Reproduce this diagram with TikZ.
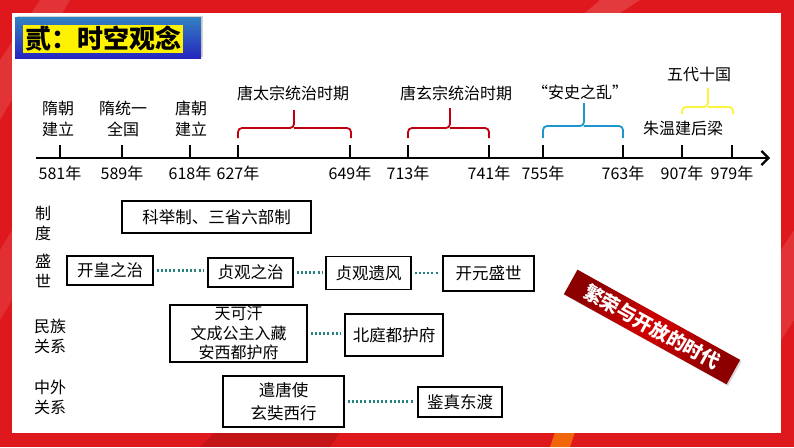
\documentclass[tikz,border=0pt]{standalone}
\usepackage{fontspec}
\newfontfamily\cjk{Noto Sans CJK SC}
\usetikzlibrary{arrows.meta,shadows}
\definecolor{framered}{RGB}{222,24,28}
\definecolor{braceRed}{RGB}{192,0,16}
\definecolor{braceBlue}{RGB}{30,150,205}
\definecolor{braceYellow}{RGB}{250,245,60}
\definecolor{linkTeal}{RGB}{40,130,130}
\begin{document}
\begin{tikzpicture}[x=1pt,y=-1pt,
  every node/.style={inner sep=0pt},
  yr/.style={font=\cjk\fontsize{16}{18}\selectfont},
  lbl/.style={align=center, font=\cjk\fontsize{16}{21}\selectfont},
  rowlbl/.style={align=left, anchor=west, font=\cjk\fontsize{16}{20}\selectfont},
  evbox/.style={draw=black, line width=1.3pt, align=center, font=\cjk\fontsize{16.5}{21.5}\selectfont},
  link/.style={draw=linkTeal, line width=2.2pt, dash pattern=on 2pt off 2.2pt, shorten <=3pt, shorten >=3pt},
  tickmark/.style={line width=2.6pt},
  bracepath/.style={line width=1.8pt, rounded corners=4pt}
]
\useasboundingbox (0,0) rectangle (794,447);
% background frame
\fill[framered] (0,0) rectangle (794,447);
\fill[white,opacity=0.12] (0,60) -- (40,0) -- (70,0) -- (0,120) -- cycle;
\fill[white,opacity=0.10] (0,250) -- (12,230) -- (12,300) -- (0,320) -- cycle;
\fill[white,opacity=0.15] (600,0) -- (640,0) -- (620,13) -- (585,13) -- cycle;
\fill[orange!80!yellow,opacity=0.6] (550,447) -- (570,447) -- (575,432) -- (555,432) -- cycle;
\fill[white,opacity=0.12] (781,250) -- (794,230) -- (794,320) -- (781,340) -- cycle;
\fill[black,opacity=0.12] (200,447) -- (330,447) -- (340,432) -- (215,432) -- cycle;
\fill[white] (12,13) rectangle (781,433);
% title
\node[top color=blue!45!cyan!70!black!80, bottom color=blue!70!black!85, drop shadow={opacity=0.35,shadow xshift=1.5pt,shadow yshift=1.5pt}, minimum width=186pt, minimum height=41pt] (titlebox) at (108,37.5) {};
\node[fill=yellow, minimum width=160pt, minimum height=28pt, font=\cjk\bfseries\fontsize{26}{28}\selectfont] (title) at (103,39) {贰：时空观念};
% axis
\coordinate (axstart) at (36,158);
\coordinate (axend) at (770,158);
\draw[line width=2.6pt, -{Straight Barb[length=7pt,width=14pt,line width=2.2pt]}] (axstart) -- (axend);
\foreach \x/\y/\n in {60/581/a,122/589/b,190/618/c,238/627/d,350/649/e,408/713/f,489/741/g,543/755/h,623/763/i,682/907/j,732/979/k}{
  \coordinate (t\n) at (\x,158);
  \draw[tickmark] (t\n) -- ++(0,-13);
  \node[yr] (y\n) at (\x,173) {\y 年};
}
% labels above
\node[lbl] (l1) at (58,119) {隋朝\\建立};
\node[lbl] (l2) at (123,119) {隋统一\\全国};
\node[lbl] (l3) at (191,119) {唐朝\\建立};
\node[lbl] (l4) at (293,93) {唐太宗统治时期};
\node[lbl] (l5) at (456,93) {唐玄宗统治时期};
\node[lbl] (l6) at (580,92) {“安史之乱”};
\node[lbl] (l7) at (699,74) {五代十国};
\node[lbl] (l8) at (683,128) {朱温建后梁};
% braces
\draw[bracepath, braceRed] (238,138) |- (294,128) -- (294,110);
\draw[bracepath, braceRed] (351,138) |- (294,128);
\draw[bracepath, braceRed] (408,138) |- (450,128) -- (450,108);
\draw[bracepath, braceRed] (489,138) |- (450,128);
\draw[bracepath, braceBlue] (543,138) |- (584,126) -- (584,103);
\draw[bracepath, braceBlue] (623,138) |- (584,126);
\draw[bracepath, braceYellow] (682,114) |- (708,107) -- (708,88);
\draw[bracepath, braceYellow] (733,114) |- (708,107);
% row labels
\node[rowlbl] (r1) at (35,223) {制\\度};
\node[rowlbl] (r2) at (35,271) {盛\\世};
\node[rowlbl] (r3) at (34,336) {民族\\关系};
\node[rowlbl] (r4) at (34,397) {中外\\关系};
% boxes
\node[evbox, minimum width=189pt, minimum height=32pt] (zhidu) at (216.5,217) {科举制、三省六部制};
\node[evbox, minimum width=86pt, minimum height=29pt] (kaihuang) at (110,270.5) {开皇之治};
\node[evbox, minimum width=85pt, minimum height=29pt] (zhenguan) at (250.5,272.5) {贞观之治};
\node[evbox, minimum width=85pt, minimum height=33pt] (yifeng) at (368.5,273) {贞观遗风};
\node[evbox, minimum width=91pt, minimum height=35pt] (kaiyuan) at (488.5,273.5) {开元盛世};
\node[evbox, minimum width=137pt, minimum height=57pt, font=\cjk\fontsize{16}{19.5}\selectfont] (tian) at (238.5,333.5) {天可汗\\文成公主入藏\\安西都护府};
\node[evbox, minimum width=98pt, minimum height=42pt] (beiting) at (394,335) {北庭都护府};
\node[evbox, minimum width=121pt, minimum height=51pt, font=\cjk\fontsize{16.5}{23}\selectfont] (qiantang) at (283.5,401.5) {遣唐使\\玄奘西行};
\node[evbox, minimum width=84pt, minimum height=30pt] (jianzhen) at (460,402) {鉴真东渡};
% connectors
\draw[link] (kaihuang.east) -- (kaihuang.east -| zhenguan.west);
\draw[link] (zhenguan.east) -- (zhenguan.east -| yifeng.west);
\draw[link] (yifeng.east) -- (yifeng.east -| kaiyuan.west);
\draw[link] (tian.east) -- (tian.east -| beiting.west);
\draw[link] (qiantang.east) -- (qiantang.east -| jianzhen.west);
% banner
\node[rotate=-29, minimum width=186pt, minimum height=28pt, inner color=red!85!black, outer color=red!55!black, drop shadow={opacity=0.3,shadow xshift=1.5pt,shadow yshift=-1.5pt}, text=white, font=\cjk\bfseries\fontsize{19}{21}\selectfont] (banner) at (652,327) {繁荣与开放的时代};
\end{tikzpicture}
\end{document}
